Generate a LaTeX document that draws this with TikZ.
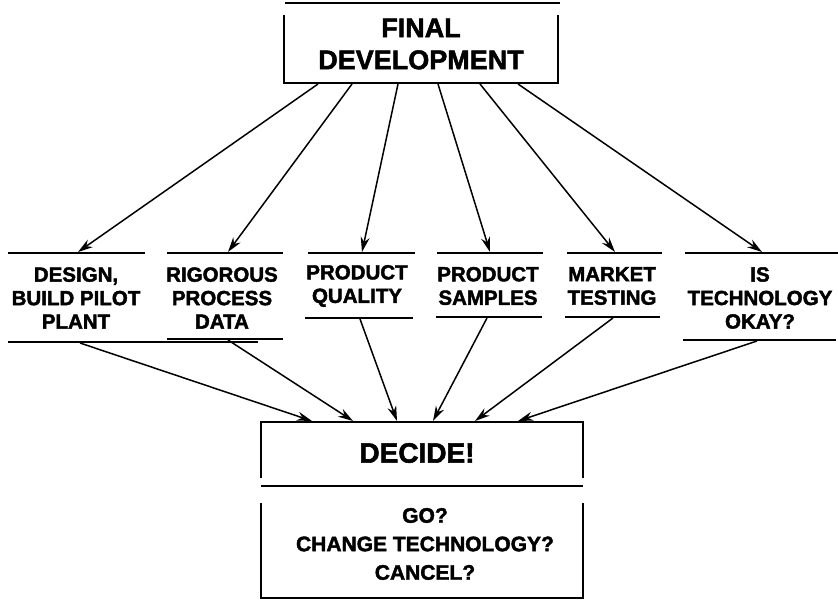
\documentclass[tikz,border=0pt]{standalone}
\usepackage{fontspec}
\setmainfont{Liberation Sans}[BoldFeatures={FakeBold=2}]
\usetikzlibrary{arrows.meta}
\begin{document}
\begin{tikzpicture}[x=1pt,y=-1pt,
  rule/.style={line width=1.8pt},
  conn/.style={line width=1.5pt,-{Stealth[length=15pt,width=9pt]}},
  bigtxt/.style={font=\fontsize{27}{32}\selectfont\bfseries,align=center,inner sep=0pt},
  midtxt/.style={font=\fontsize{20.5}{23.5}\selectfont\bfseries,align=center,inner sep=0pt},
  dectxt/.style={font=\fontsize{28}{32}\selectfont\bfseries,align=center,inner sep=0pt},
  opttxt/.style={font=\fontsize{21}{28.5}\selectfont\bfseries,align=center,inner sep=0pt}]
\useasboundingbox (0,0) rectangle (838,601);
% top box
\draw[rule] (285,3) -- (560,3);
\draw[rule] (284,15) -- (284,83) -- (558,83) -- (558,15);
\node[bigtxt] (fd) at (421,44) {FINAL\\DEVELOPMENT};
% middle nodes
\draw[rule] (8,253) -- (145,253);   \draw[rule] (8,342) -- (258,342);
\draw[rule] (167,253) -- (283,253); \draw[rule] (167,339) -- (283,339);
\draw[rule] (308,253) -- (415,253); \draw[rule] (305,318) -- (413,318);
\draw[rule] (437,253) -- (543,253); \draw[rule] (436,317) -- (542,317);
\draw[rule] (567,253) -- (662,253); \draw[rule] (565,317) -- (660,317);
\draw[rule] (685,253) -- (838,253); \draw[rule] (683,340) -- (836,340);
\node[midtxt] (dp) at (76,298) {DESIGN,\\BUILD PILOT\\PLANT};
\node[midtxt] (rp) at (222,298) {RIGOROUS\\PROCESS\\DATA};
\node[midtxt] (pq) at (357,286) {PRODUCT\\QUALITY};
\node[midtxt] (ps) at (488,286) {PRODUCT\\SAMPLES};
\node[midtxt] (mt) at (612,286) {MARKET\\TESTING};
\node[midtxt] (it) at (760,298) {IS\\TECHNOLOGY\\OKAY?};
% decide box
\draw[rule] (261,478) -- (261,422) -- (583,422) -- (583,478);
\draw[rule] (261,486) -- (583,486);
\draw[rule] (261,503) -- (261,598) -- (583,598) -- (583,503);
\node[dectxt] (dc) at (417,453) {DECIDE!};
\node[opttxt] (op) at (425,544) {GO?\\CHANGE TECHNOLOGY?\\CANCEL?};
% connector end points
\coordinate (fd1) at (318,84); \coordinate (fd2) at (352,84);
\coordinate (fd3) at (398,84); \coordinate (fd4) at (438,84);
\coordinate (fd5) at (480,84); \coordinate (fd6) at (518,84);
\coordinate (dpT) at (78,252);  \coordinate (rpT) at (228,252);
\coordinate (pqT) at (362,252); \coordinate (psT) at (490,252);
\coordinate (mtT) at (615,252); \coordinate (itT) at (762,252);
\coordinate (dpB) at (80,343);  \coordinate (rpB) at (228,340);
\coordinate (pqB) at (360,319); \coordinate (psB) at (487,318);
\coordinate (mtB) at (613,318); \coordinate (itB) at (757,341);
\coordinate (dc1) at (312,421); \coordinate (dc2) at (353,421);
\coordinate (dc3) at (397,421); \coordinate (dc4) at (433,421);
\coordinate (dc5) at (475,421); \coordinate (dc6) at (518,421);
\draw[conn] (fd1) -- (dpT);
\draw[conn] (fd2) -- (rpT);
\draw[conn] (fd3) -- (pqT);
\draw[conn] (fd4) -- (psT);
\draw[conn] (fd5) -- (mtT);
\draw[conn] (fd6) -- (itT);
\draw[conn] (dpB) -- (dc1);
\draw[conn] (rpB) -- (dc2);
\draw[conn] (pqB) -- (dc3);
\draw[conn] (psB) -- (dc4);
\draw[conn] (mtB) -- (dc5);
\draw[conn] (itB) -- (dc6);
\end{tikzpicture}
\end{document}
